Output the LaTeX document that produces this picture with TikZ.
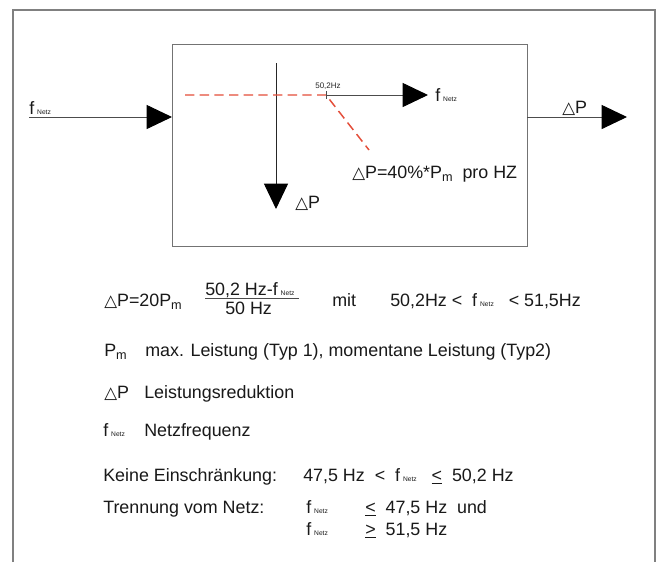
\documentclass[tikz,border=0pt]{standalone}
\usepackage{fontspec}
\setmainfont{Liberation Sans}
\newfontfamily\djv{DejaVu Sans}
\usetikzlibrary{arrows.meta}
\newcommand{\tri}{{\djv\fontsize{12.5}{12.5}\selectfont △}}
\newcommand{\Pmm}{P\raisebox{-0.35ex}{\fontsize{9.5}{9.5}\selectfont m}}
\newcommand{\fN}{f\,{\fontsize{5}{5}\selectfont Netz}}
\newcommand{\myle}{\underline{<}}
\newcommand{\myge}{\underline{>}}
\begin{document}
\begin{tikzpicture}[x=0.75pt,y=-0.75pt,
  txt/.style={anchor=base west,inner sep=0pt,font=\fontsize{13.4}{15}\selectfont,text=black!90},
  tiny/.style={anchor=base,inner sep=0pt,font=\fontsize{6}{6}\selectfont,text=black!85},
  frame/.style={draw=black!50,line width=1.1pt},
  ln/.style={draw=black!70,line width=0.75pt},
  big/.style={ln,-{Triangle[length=19pt,width=18pt,black]}},
  reddash/.style={draw={rgb,255:red,228;green,78;blue,58},line width=1.1pt,dash pattern=on 7pt off 4pt}]
\useasboundingbox (0,0) rectangle (656,562);
\fill[white] (0,0) rectangle (656,562);
% outer frame
\draw[frame] (13,562) -- (13,10) -- (655,10) -- (655,562);
% inner box
\node (box) [draw=black!55,line width=0.8pt,minimum width=266.25pt,minimum height=151.5pt,anchor=north west,inner sep=0pt] at (172,44) {};
% input / output
\coordinate (inA) at (29,117);
\coordinate (inB) at (172,117);
\coordinate (outA) at (527,117);
\coordinate (outB) at (627,117);
\draw[big] (inA) -- (inB);
\draw[big] (outA) -- (outB);
\node (fin) [txt] at (29,114) {\fN};
\node (dpout) [txt] at (562,113) {\tri P};
% axes
\coordinate (vTop) at (276,63);
\coordinate (vBot) at (276,209);
\coordinate (hK) at (326,95);
\coordinate (hEnd) at (428,95);
\coordinate (rStart) at (185,95);
\coordinate (rEnd) at (369,150);
\draw[big,draw=black!85] (vTop) -- (vBot);
\draw[big] (hK) -- (hEnd);
\draw[reddash] (rStart) -- (hK) -- (rEnd);
\draw[ln,line width=0.5pt] (326,91) -- (326,99);
\node (k502) [tiny] at (328,88) {50,2Hz};
\node (fax) [txt] at (435,101) {\fN};
\node (dpax) [txt] at (295,208) {\tri P};
\node (slope) [txt] at (352,178) {\tri P=40\%*\Pmm{} \ pro HZ};
% formula
\node (f1) [txt] at (104,306) {\tri P=20\Pmm};
\node (num) [txt] at (205,295) {50,2 Hz-\fN};
\draw[black!70,line width=0.6pt] (205,298) -- (299,298);
\node (den) [txt] at (225,314) {50 Hz};
\node (mit) [txt] at (332,306) {mit};
\node (rng) [txt] at (390,306) {50,2Hz <\ \ \fN\ \ \ < 51,5Hz};
% legend
\node (l1) [txt] at (104,356) {\Pmm};
\node (l1b) [txt] at (145,356) {max. Leistung (Typ 1), momentane Leistung (Typ2)};
\node (l2) [txt] at (104,398) {\tri P};
\node (l2b) [txt] at (144,398) {Leistungsreduktion};
\node (l3) [txt] at (103,436) {\fN};
\node (l3b) [txt] at (144,436) {Netzfrequenz};
\node (l4) [txt] at (103,481) {Keine Einschränkung:};
\node (l4b) [txt] at (303,481) {47,5 Hz\ \ <\ \ \fN\ \ \ \myle\ \ 50,2 Hz};
\node (l5) [txt] at (103,513) {Trennung vom Netz:};
\node (l5a) [txt] at (306,513) {\fN};
\node (l5b) [txt] at (365,513) {\myle\ \ 47,5 Hz\ \ und};
\node (l6a) [txt] at (306,535) {\fN};
\node (l6b) [txt] at (365,535) {\myge\ \ 51,5 Hz};
\end{tikzpicture}
\end{document}
